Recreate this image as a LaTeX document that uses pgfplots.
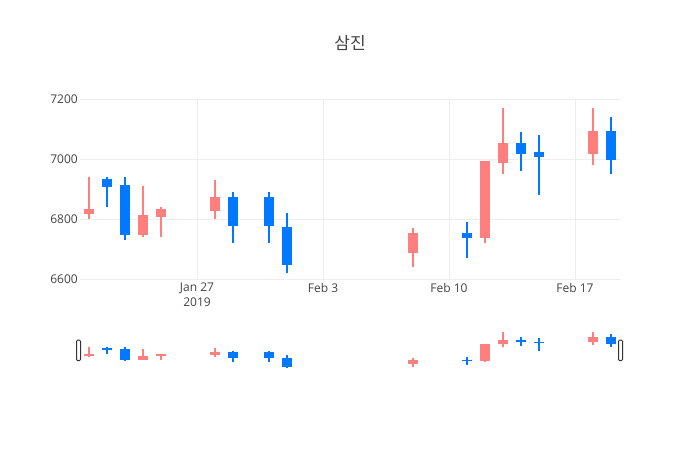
\documentclass[border=0pt]{standalone}
\usepackage{pgfplots}
\pgfplotsset{compat=1.18}
\usepackage{pgfplotstable}
\usepackage{fontspec}
\setmainfont{Open Sans}
\newfontfamily\kr{Noto Sans CJK KR}
\definecolor{txt}{RGB}{68,68,68}
\definecolor{grd}{RGB}{238,238,238}
\definecolor{upc}{RGB}{255,127,127}
\definecolor{dnc}{RGB}{0,120,255}
\definecolor{hdl}{RGB}{51,51,51}

% day index: Jan 27, 2019 = 0
\pgfplotstableread{
d open high low close
-6 6820 6940 6800 6830
-3 6750 6910 6740 6810
-2 6810 6840 6740 6830
1 6830 6930 6800 6870
12 6690 6770 6640 6750
16 6740 6990 6720 6990
17 6990 7170 6950 7050
22 7020 7170 6980 7090
}\rising
\pgfplotstableread{
d open high low close
-5 6930 6940 6840 6910
-4 6910 6940 6730 6750
2 6870 6890 6720 6780
4 6870 6890 6720 6780
5 6770 6820 6620 6650
15 6750 6790 6670 6740
18 7050 7090 6960 7020
19 7020 7080 6880 7010
23 7090 7140 6950 7000
}\falling

\newcommand\candles{%
\addplot[draw=none, no markers, error bars/.cd, y dir=both, y explicit, error mark=none,
  error bar style={draw=upc, line width=2pt}]
  table[x=d, y expr=(\thisrow{high}+\thisrow{low})/2, y error expr=(\thisrow{high}-\thisrow{low})/2] {\rising};
\addplot[draw=none, no markers, error bars/.cd, y dir=both, y explicit, error mark=none,
  error bar style={draw=upc, line width=10.5pt}]
  table[x=d, y expr=(\thisrow{open}+\thisrow{close})/2, y error expr=abs(\thisrow{close}-\thisrow{open})/2+3] {\rising};
\addplot[draw=none, no markers, error bars/.cd, y dir=both, y explicit, error mark=none,
  error bar style={draw=dnc, line width=2pt}]
  table[x=d, y expr=(\thisrow{high}+\thisrow{low})/2, y error expr=(\thisrow{high}-\thisrow{low})/2] {\falling};
\addplot[draw=none, no markers, error bars/.cd, y dir=both, y explicit, error mark=none,
  error bar style={draw=dnc, line width=10.5pt}]
  table[x=d, y expr=(\thisrow{open}+\thisrow{close})/2, y error expr=abs(\thisrow{close}-\thisrow{open})/2+3] {\falling};
}

\begin{document}
\begin{tikzpicture}
\path[fill=white, use as bounding box] (0pt,0pt) rectangle (700pt,450pt);
\node[font=\kr\fontsize{17}{20}\selectfont, text=txt] at (350pt,407pt) {삼진};
\begin{axis}[
  at={(80pt,171pt)}, anchor=south west, scale only axis,
  width=540pt, height=180pt,
  xmin=-6.5, xmax=23.5, ymin=6600, ymax=7200,
  xtick={0,7,14,21}, xticklabels={{Jan 27\\2019},{Feb 3},{Feb 10},{Feb 17}},
  ytick={6600,6800,7000,7200},
  grid=major, major grid style={draw=grd, line width=1pt},
  axis line style={draw=none}, major tick length=0pt,
  /pgf/number format/assume math mode=true,
  /pgf/number format/1000 sep={},
  tick label style={font=\fontsize{12}{15}\selectfont, text=txt},
  xticklabel style={align=center, inner sep=0pt, yshift=-4pt},
  yticklabel style={inner sep=0pt, xshift=-2pt},
  clip=false,
]
\candles
\end{axis}
\begin{axis}[
  at={(80pt,80pt)}, anchor=south west, scale only axis,
  width=540pt, height=39.6pt,
  xmin=-6.5, xmax=23.5, ymin=6595, ymax=7197,
  axis lines=none, ticks=none,
  clip=false,
]
\candles
\draw[hdl, fill=white, line width=1pt, rounded corners=1.2pt]
  ([xshift=-3.5pt]rel axis cs:0,0.235) rectangle ([xshift=0.5pt]rel axis cs:0,0.757);
\draw[hdl, fill=white, line width=1pt, rounded corners=1.2pt]
  ([xshift=-1.5pt]rel axis cs:1,0.235) rectangle ([xshift=2.5pt]rel axis cs:1,0.757);
\end{axis}
\end{tikzpicture}
\end{document}
